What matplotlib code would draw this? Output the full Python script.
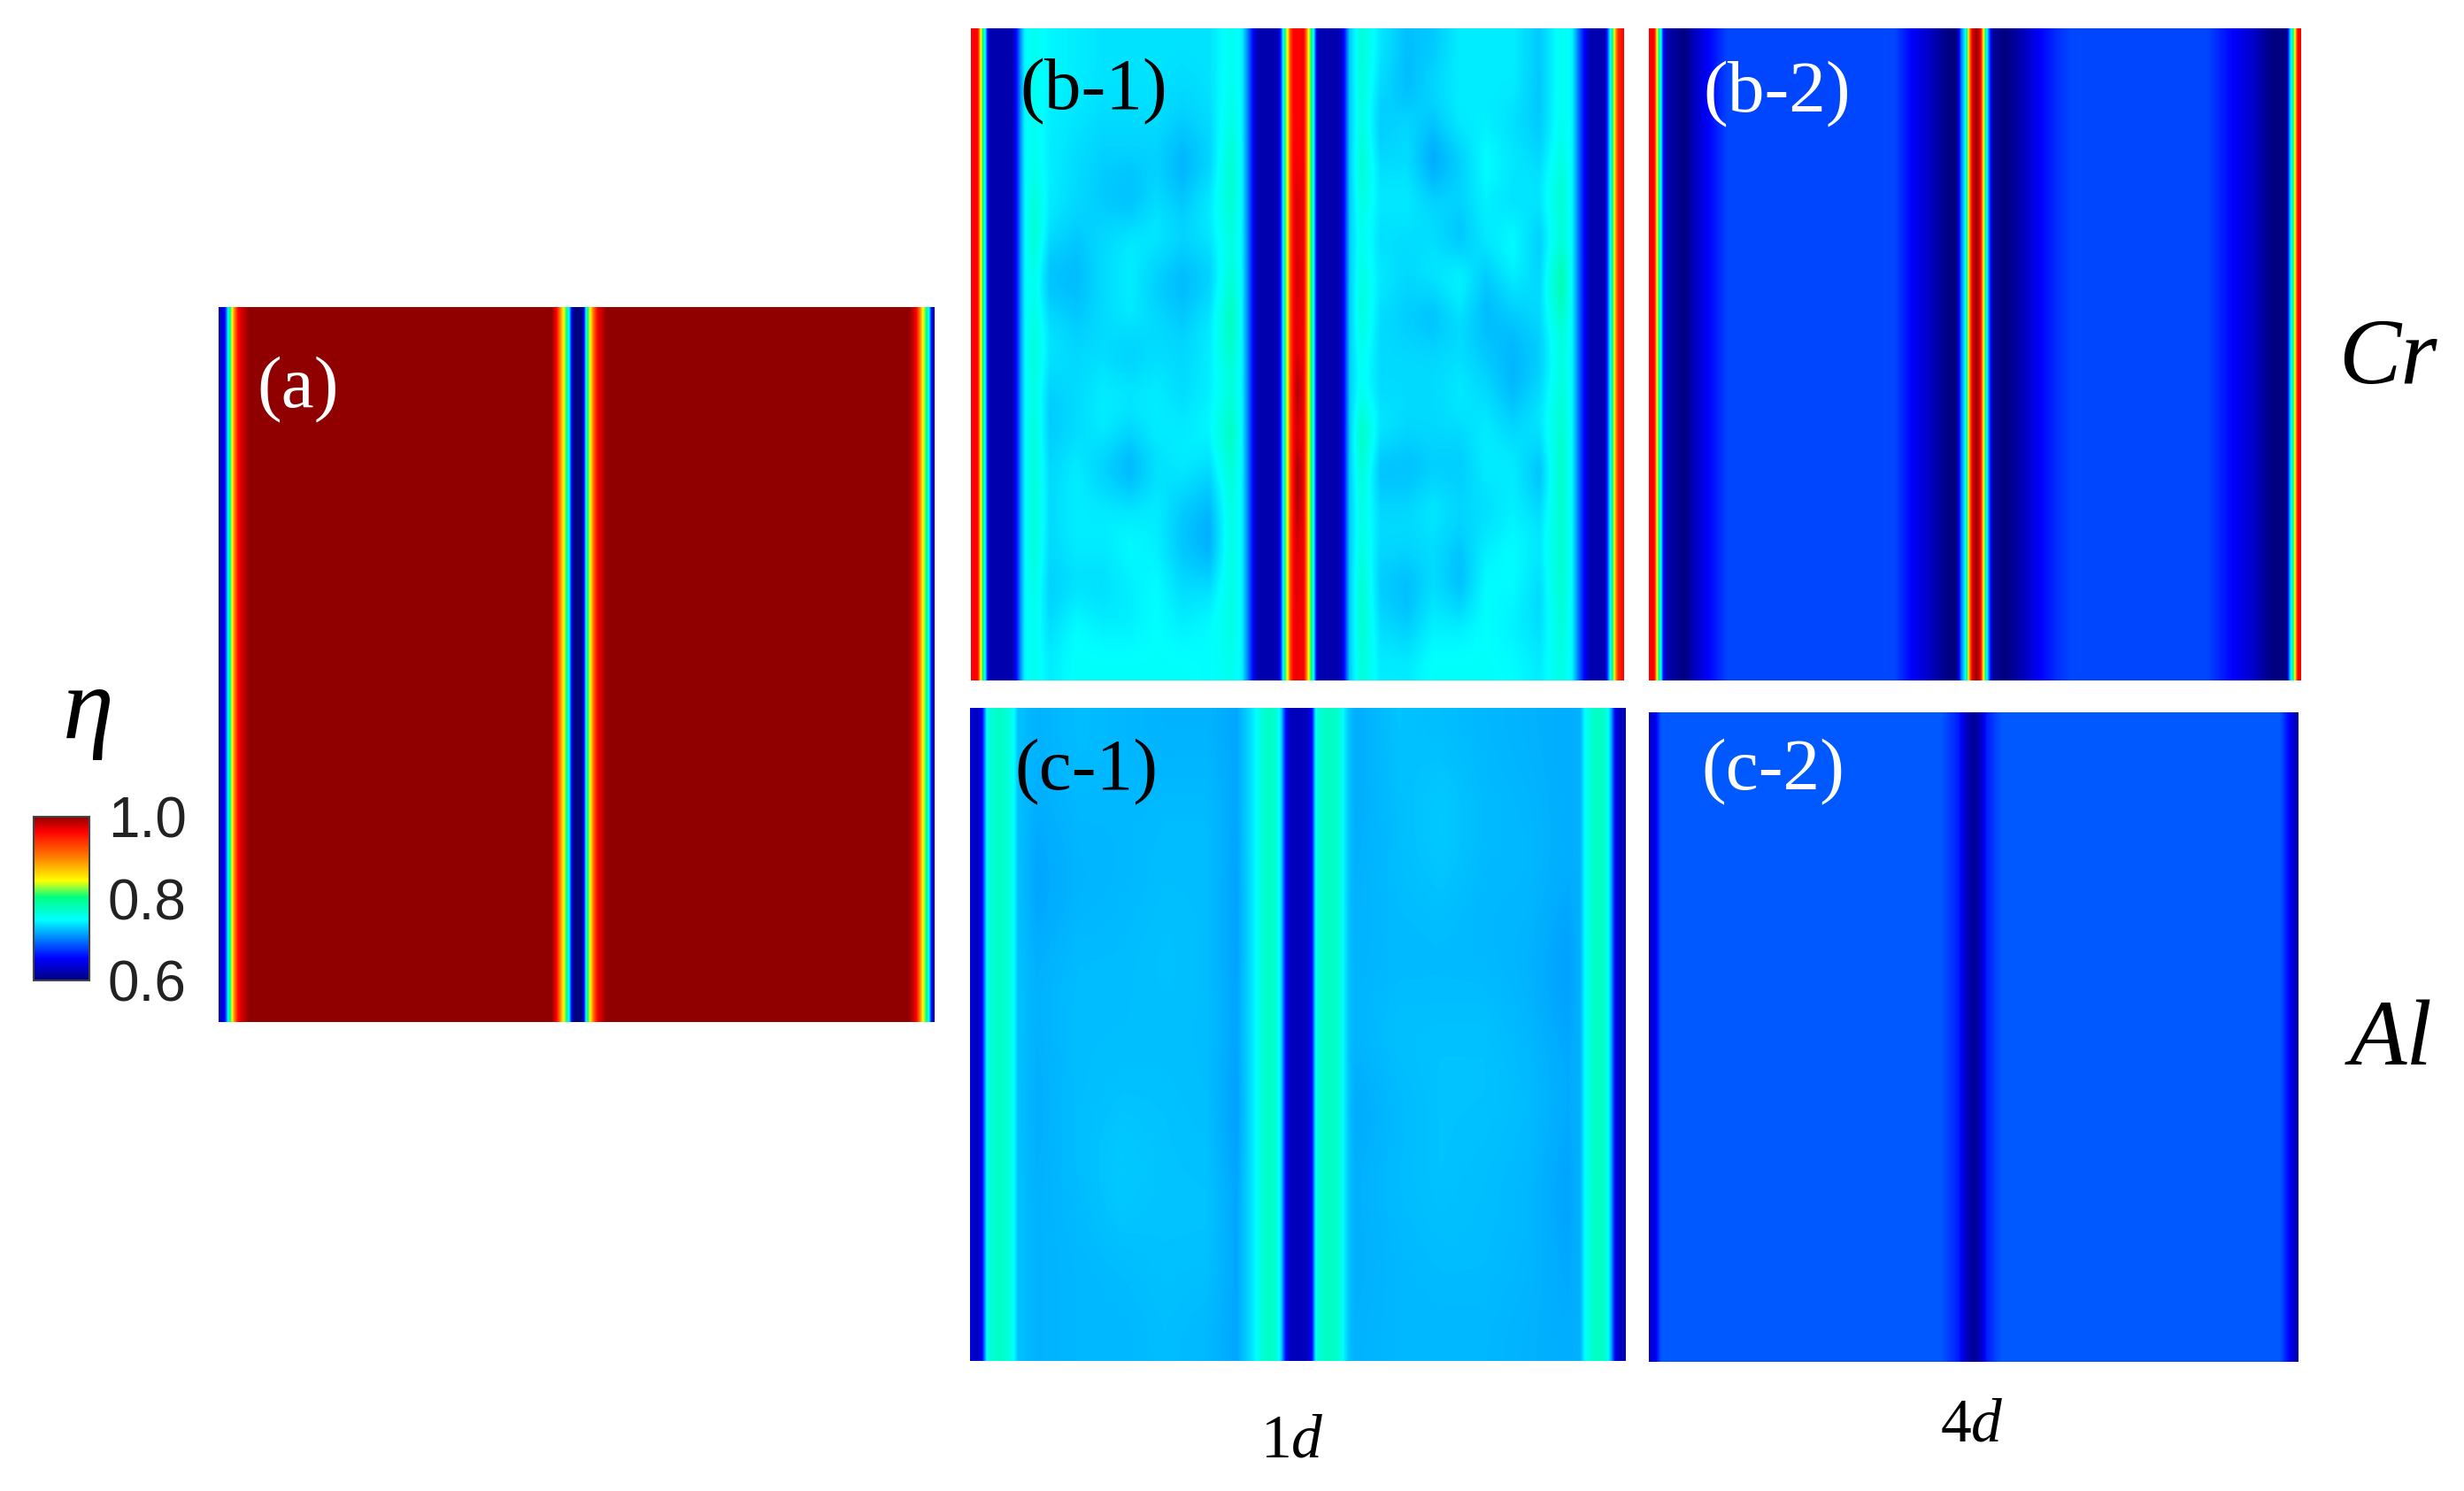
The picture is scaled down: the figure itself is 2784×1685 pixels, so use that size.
import numpy as np
import matplotlib
matplotlib.use("Agg")
import matplotlib.pyplot as plt
from matplotlib.colors import LinearSegmentedColormap, Normalize
from matplotlib.cm import ScalarMappable

W, H = 2784, 1685

plt.rcParams['font.family'] = ['Liberation Serif', 'DejaVu Serif']
plt.rcParams['mathtext.fontset'] = 'custom'
plt.rcParams['mathtext.rm'] = 'Liberation Serif'
plt.rcParams['mathtext.it'] = 'Liberation Serif:italic'

# ---- colour scale: eta -> colour
cmap_eta = [0.60, 0.654, 0.748, 0.804, 0.844, 0.90, 0.964, 1.0]
cmap_colors = ['#000080', '#0000ff', '#00ffff', '#00ff80', '#ffff00', '#ff8000', '#ff0000', '#910000']
cbar_ticks = [0.6, 0.8, 1.0]

# ---- panel (a): order parameter across the width (x in % of panel)
x_a = [0, 0.85, 1.05, 1.3, 1.6, 1.85, 2.2, 2.7, 3.5, 4.2,
       46.5, 47.2, 47.7, 48.2, 48.6, 48.95, 49.3, 49.6, 50.7, 51.05, 51.3, 51.55, 51.9, 52.3, 52.9, 53.6, 54.2,
       96.5, 97.5, 98.0, 98.4, 98.9, 99.25, 99.6, 100]
eta_a = [0.62, 0.654, 0.70, 0.748, 0.804, 0.844, 0.90, 0.964, 0.985, 1.0,
         1.0, 0.964, 0.90, 0.844, 0.804, 0.748, 0.654, 0.60, 0.60, 0.654, 0.748, 0.804, 0.844, 0.90, 0.964, 0.985, 1.0,
         1.0, 0.964, 0.90, 0.844, 0.804, 0.748, 0.654, 0.60]

# ---- panel (b-1): stripes plus mottled band columns
x_b1 = [0, 1.04, 1.26, 1.49, 1.81, 2.17, 2.53, 2.85, 6.23, 6.9, 7.6, 8.2,
        9.6, 12.1, 16.2, 20.2, 24.3, 28.4, 32.4, 36.5, 39.9,
        41.5, 42.4, 43.3, 43.95, 46.9, 47.4, 47.8, 48.2, 48.5, 48.9, 49.4, 50.0, 51.0, 51.4, 51.7, 52.1, 52.5, 52.9, 53.3,
        56.4, 57.1, 58.0,
        59.8, 62.7, 66.8, 70.8, 74.9, 78.9, 83.0, 87.1, 90.5,
        92.1, 93.2, 94.3, 94.8, 97.0, 97.4, 97.9, 98.4, 98.6, 99.1, 100]
eta_b1 = [0.964, 0.964, 0.90, 0.844, 0.804, 0.748, 0.654, 0.62, 0.62, 0.654, 0.71, 0.745,
          0.76, 0.74, 0.74, 0.74, 0.74, 0.74, 0.74, 0.74, 0.76,
          0.745, 0.70, 0.65, 0.62, 0.62, 0.66, 0.748, 0.82, 0.844, 0.93, 0.964, 0.97, 0.964, 0.90, 0.844, 0.804, 0.748, 0.654, 0.62,
          0.62, 0.654, 0.73,
          0.77, 0.74, 0.74, 0.74, 0.74, 0.74, 0.74, 0.74, 0.765,
          0.745, 0.69, 0.64, 0.62, 0.62, 0.66, 0.748, 0.82, 0.86, 0.94, 0.964]
band_left_b1 = [9.6, 12.1, 16.2, 20.2, 24.3, 28.4, 32.4, 36.5, 39.9]
band_right_b1 = [59.8, 62.7, 66.8, 70.8, 74.9, 78.9, 83.0, 87.1, 90.5]
mottle_left_b1 = [
    [.755, .745, .742, .738, .738, .738, .738, .738, .755],
    [.755, .745, .742, .738, .738, .738, .735, .738, .755],
    [.755, .742, .738, .735, .735, .735, .73, .735, .76],
    [.755, .742, .735, .73, .73, .73, .718, .73, .77],
    [.765, .742, .735, .728, .722, .735, .728, .742, .77],
    [.77, .735, .728, .735, .742, .742, .735, .74, .76],
    [.755, .722, .722, .735, .742, .728, .72, .728, .765],
    [.76, .735, .728, .735, .742, .735, .728, .74, .78],
    [.765, .74, .735, .735, .728, .735, .735, .742, .77],
    [.76, .73, .735, .742, .742, .742, .735, .742, .76],
    [.765, .728, .735, .742, .735, .742, .742, .748, .78],
    [.765, .735, .742, .728, .716, .735, .742, .735, .765],
    [.765, .735, .742, .742, .74, .742, .728, .722, .76],
    [.765, .735, .742, .742, .748, .742, .726, .716, .76],
    [.76, .73, .735, .735, .742, .748, .735, .735, .76],
    [.755, .735, .748, .742, .742, .748, .742, .748, .76],
    [.755, .742, .75, .75, .75, .75, .75, .748, .755],
]
mottle_right_b1 = [
    [.765, .74, .725, .728, .742, .742, .742, .728, .755],
    [.765, .735, .722, .735, .742, .742, .742, .728, .755],
    [.76, .728, .735, .728, .742, .742, .735, .728, .755],
    [.77, .735, .735, .712, .728, .75, .742, .735, .76],
    [.76, .742, .742, .735, .735, .742, .735, .742, .772],
    [.755, .735, .735, .735, .722, .742, .75, .728, .76],
    [.76, .742, .735, .742, .75, .728, .742, .735, .79],
    [.765, .735, .728, .722, .735, .722, .728, .735, .77],
    [.755, .735, .735, .735, .735, .728, .72, .728, .76],
    [.75, .735, .735, .735, .742, .735, .722, .735, .765],
    [.78, .742, .735, .735, .735, .742, .735, .742, .77],
    [.765, .722, .722, .728, .728, .742, .742, .722, .772],
    [.76, .735, .735, .742, .735, .735, .742, .735, .77],
    [.76, .735, .735, .735, .728, .742, .748, .742, .77],
    [.77, .728, .722, .735, .722, .748, .748, .735, .77],
    [.77, .735, .728, .742, .742, .748, .742, .735, .765],
    [.765, .742, .742, .75, .75, .75, .748, .742, .76],
]
center_b1 = [.964, .964, .964, .965, .98, .975, .98, .975, .97, 1.0, .97, 1.0, .99, .975, .975, .97, .97]

# ---- panel (b-2)
x_b2 = [0, 0.85, 1.2, 1.5, 1.85, 2.2, 2.8, 5.5, 6.8, 9.1, 12.0, 37.7, 40.3, 43.0, 45.9, 47.2, 47.9, 48.5, 48.8, 49.2, 49.5,
        50.2, 50.9, 51.3, 51.6, 52.0, 52.4, 52.8, 54.8, 57.4, 60.0, 62.7, 64.7, 85.7, 89.6, 92.9, 95.5, 97.8, 98.2, 98.5,
        98.8, 99.1, 99.5, 100]
eta_b2 = [0.964, 0.964, 0.844, 0.804, 0.748, 0.654, 0.62, 0.60, 0.625, 0.654, 0.68, 0.68, 0.654, 0.63, 0.60, 0.60, 0.70, 0.748,
          0.804, 0.90, 0.964, 1.0, 0.964, 0.844, 0.804, 0.72, 0.654, 0.61, 0.60, 0.625, 0.654, 0.672, 0.68, 0.68, 0.654, 0.63,
          0.60, 0.60, 0.70, 0.748, 0.804, 0.844, 0.964, 0.964]

# ---- panel (c-1)
x_c1 = [0, 1.2, 1.9, 2.5, 3.1, 4.4, 5.7, 6.7, 7.3,
        10.2, 16.7, 23.2, 29.7, 36.1, 40.7,
        42.7, 43.6, 44.6, 45.7, 46.8, 47.5, 48.1, 48.8, 51.4, 52.2, 52.7, 53.3, 54.7, 56.2, 56.9, 57.8,
        58.8, 65.3, 71.8, 78.3, 84.7, 91.2,
        93.1, 93.8, 94.8, 95.9, 97.0, 97.8, 98.3, 99.0, 100]
eta_c1 = [0.64, 0.625, 0.66, 0.748, 0.765, 0.774, 0.765, 0.748, 0.725,
          0.72, 0.72, 0.72, 0.72, 0.72, 0.716,
          0.735, 0.748, 0.765, 0.774, 0.765, 0.73, 0.66, 0.625, 0.625, 0.66, 0.748, 0.768, 0.776, 0.768, 0.748, 0.725,
          0.72, 0.72, 0.72, 0.72, 0.72, 0.716,
          0.72, 0.748, 0.768, 0.776, 0.768, 0.72, 0.66, 0.625, 0.63]
band_left_c1 = [10.2, 16.7, 23.2, 29.7, 36.1, 40.7]
band_right_c1 = [58.8, 65.3, 71.8, 78.3, 84.7, 91.2]
mottle_left_c1 = [
    [.72, .724, .722, .72, .72, .716],
    [.718, .722, .722, .724, .724, .716],
    [.714, .72, .722, .724, .724, .714],
    [.72, .724, .724, .726, .724, .714],
    [.72, .724, .724, .724, .724, .716],
    [.718, .724, .726, .726, .724, .712],
    [.72, .724, .73, .726, .726, .716],
    [.72, .722, .724, .726, .726, .716],
    [.72, .722, .722, .724, .722, .716],
]
mottle_right_c1 = [
    [.718, .726, .724, .722, .72, .718],
    [.718, .724, .73, .724, .722, .718],
    [.72, .724, .726, .722, .722, .718],
    [.72, .722, .722, .722, .72, .712],
    [.722, .726, .726, .726, .722, .716],
    [.716, .722, .726, .726, .724, .718],
    [.72, .724, .726, .724, .722, .714],
    [.718, .722, .724, .724, .722, .716],
    [.72, .722, .722, .722, .72, .718],
]

# ---- panel (c-2)
x_c2 = [0, 0.9, 1.85, 45.0, 47.7, 49.0, 50.0, 51.0, 52.0, 54.3, 97.2, 98.8, 99.8, 100]
eta_c2 = [0.63, 0.645, 0.687, 0.687, 0.665, 0.625, 0.61, 0.625, 0.665, 0.687, 0.687, 0.65, 0.62, 0.62]

# text labels
panel_labels = ['(a)', '(b-1)', '(b-2)', '(c-1)', '(c-2)']
row_labels = ['Cr', 'Al']
col_labels = ['1', '4']

cmap = LinearSegmentedColormap.from_list(
    'eta', [((e - 0.6) / 0.4, c) for e, c in zip(cmap_eta, cmap_colors)], N=512)
norm = Normalize(0.6, 1.0)

fig = plt.figure(figsize=(W / 100, H / 100), dpi=100, facecolor='white')


def px_axes(x0, y0, x1, y1):
    # pixel box measured from the top left of the picture
    ax = fig.add_axes([x0 / W, 1 - y1 / H, (x1 - x0) / W, (y1 - y0) / H])
    ax.set_axis_off()
    return ax


def px_text(x, y, s, **kw):
    fig.text(x / W, 1 - y / H, s, ha='center', va='center', **kw)


def draw_field(ax, x, z):
    # columns are unevenly spaced, so lay them on an even grid for imshow
    even_x = np.linspace(0, 100, 1500)
    even_z = np.array([np.interp(even_x, x, row) for row in z])
    ax.imshow(even_z, cmap=cmap, norm=norm, aspect='auto', extent=(0, 100, 1, 0),
              interpolation='bicubic', interpolation_stage='data')


def with_bands(x, eta, bands, nrows):
    # repeat the stripe profile per row, then put in the mottled columns
    z = np.tile(np.asarray(eta, dtype=float), (nrows, 1))
    for band_x, table in bands:
        idx = [x.index(v) for v in band_x]
        z[:, idx] = np.asarray(table)
    return z


draw_field(px_axes(247, 347, 1056, 1155), x_a, [eta_a, eta_a])

z_b1 = with_bands(x_b1, eta_b1, [(band_left_b1, mottle_left_b1), (band_right_b1, mottle_right_b1)], 17)
z_b1[:, x_b1.index(50.0)] = center_b1
draw_field(px_axes(1097, 32, 1835, 769), x_b1, z_b1)

draw_field(px_axes(1863, 32, 2600, 769), x_b2, [eta_b2, eta_b2])

z_c1 = with_bands(x_c1, eta_c1, [(band_left_c1, mottle_left_c1), (band_right_c1, mottle_right_c1)], 9)
draw_field(px_axes(1096, 800, 1836, 1538), x_c1, z_c1)

draw_field(px_axes(1863, 805, 2597, 1539), x_c2, [eta_c2, eta_c2])

# colour bar
cax = fig.add_axes([38 / W, 1 - 1108 / H, 63 / W, 185 / H])
cb = fig.colorbar(ScalarMappable(norm=norm, cmap=cmap), cax=cax, ticks=cbar_ticks)
cb.ax.tick_params(length=0, pad=15, labelsize=46, labelcolor='#222222')
cb.ax.set_yticklabels(['%.1f' % t for t in cbar_ticks], family='Liberation Sans')
cb.outline.set_edgecolor('#444444')
cb.outline.set_linewidth(1.5)

px_text(100, 806, '\u03b7', fontsize=84, style='italic', color='black')

px_text(337, 441, panel_labels[0], fontsize=60, color='white')
px_text(1236, 104, panel_labels[1], fontsize=60, color='black')
px_text(2008, 107, panel_labels[2], fontsize=60, color='white')
px_text(1227, 873, panel_labels[3], fontsize=60, color='black')
px_text(2003, 873, panel_labels[4], fontsize=60, color='white')

px_text(2698, 408, row_labels[0], fontsize=76, style='italic', color='black')
px_text(2702, 1178, row_labels[1], fontsize=76, style='italic', color='black')

px_text(1460, 1630, col_labels[0] + r'$\mathit{d}$', fontsize=50, color='black')
px_text(2228, 1612, col_labels[1] + r'$\mathit{d}$', fontsize=50, color='black')

fig.savefig('out.png', dpi=100)
